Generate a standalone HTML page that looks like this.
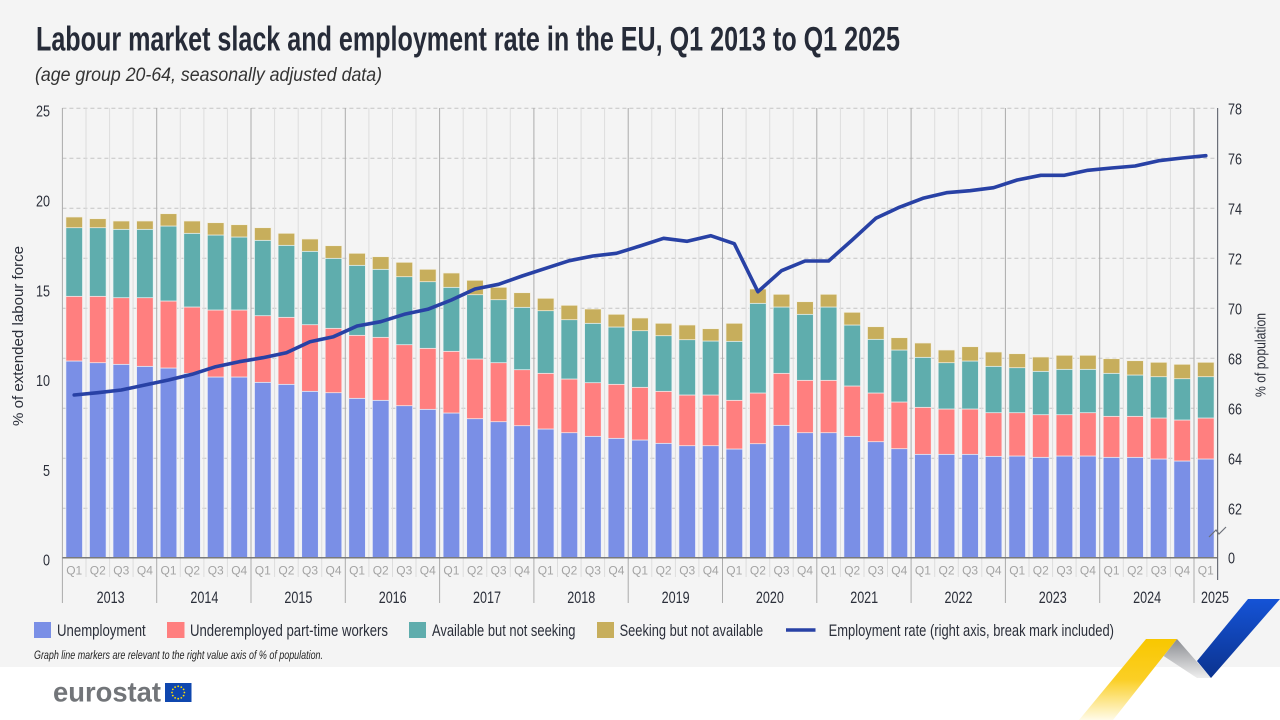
<!DOCTYPE html>
<html><head><meta charset="utf-8"><style>
html,body{margin:0;padding:0;background:#fff;}
svg{display:block;}
.f{font-family:"Liberation Sans Narrow","Liberation Sans",sans-serif;}
.b{fill:#7a8fe6;stroke:#eef0f8;stroke-width:0.7}
.r{fill:#ff7f7f;stroke:#f6eeee;stroke-width:0.7}
.t{fill:#5fadad;stroke:#eaf2f2;stroke-width:0.7}
.g{fill:#c7ae5c;stroke:#f4f0e4;stroke-width:0.7}
.q{font-size:12px;fill:#a3a3a3;}
.yr{font-size:17px;fill:#2b2f3a;}
.tk{font-size:16px;fill:#2b2f3a;}
.lg{font-size:16.5px;fill:#2b2f3a;}
</style></head><body>
<svg width="1280" height="720" viewBox="0 0 1280 720" xmlns="http://www.w3.org/2000/svg">
<defs>
<linearGradient id="gy" x1="0" y1="0" x2="0" y2="1"><stop offset="0" stop-color="#f8c700"/><stop offset="0.5" stop-color="#fbcf25"/><stop offset="1" stop-color="#fffbe8"/></linearGradient>
<linearGradient id="gg" x1="0" y1="0" x2="0" y2="1"><stop offset="0" stop-color="#8a8c91"/><stop offset="1" stop-color="#eeeeee"/></linearGradient>
<linearGradient id="gb" x1="0" y1="0" x2="0" y2="1"><stop offset="0" stop-color="#1553d6"/><stop offset="1" stop-color="#0b338f"/></linearGradient>
</defs>
<rect x="0" y="0" width="1280" height="667" fill="#f4f4f4"/>
<rect x="0" y="667" width="1280" height="53" fill="#ffffff"/>

<text class="f" x="36" y="50.5" font-size="34" font-weight="bold" fill="#262b38" textLength="864" lengthAdjust="spacingAndGlyphs">Labour market slack and employment rate in the EU, Q1 2013 to Q1 2025</text>
<text class="f" x="35" y="81" font-size="19" font-style="italic" fill="#333" textLength="347" lengthAdjust="spacingAndGlyphs">(age group 20-64, seasonally adjusted data)</text>

<!-- dashed gridlines -->
<g stroke="#c4c4c4" stroke-width="1" stroke-dasharray="4 3">
<line x1="62.4" x2="1217.6" y1="108.3" y2="108.3"/>
<line x1="62.4" x2="1217.6" y1="158.3" y2="158.3"/>
<line x1="62.4" x2="1217.6" y1="208.3" y2="208.3"/>
<line x1="62.4" x2="1217.6" y1="258.3" y2="258.3"/>
<line x1="62.4" x2="1217.6" y1="308.3" y2="308.3"/>
<line x1="62.4" x2="1217.6" y1="358.3" y2="358.3"/>
<line x1="62.4" x2="1217.6" y1="408.3" y2="408.3"/>
<line x1="62.4" x2="1217.6" y1="458.3" y2="458.3"/>
<line x1="62.4" x2="1217.6" y1="508.3" y2="508.3"/>
</g>
<!-- quarter gridlines -->
<g stroke="#dddddd" stroke-width="1">
<line x1="86" x2="86" y1="108" y2="577"/><line x1="109.6" x2="109.6" y1="108" y2="577"/><line x1="133.1" x2="133.1" y1="108" y2="577"/>
<line x1="180.3" x2="180.3" y1="108" y2="577"/><line x1="203.9" x2="203.9" y1="108" y2="577"/><line x1="227.4" x2="227.4" y1="108" y2="577"/>
<line x1="274.6" x2="274.6" y1="108" y2="577"/><line x1="298.2" x2="298.2" y1="108" y2="577"/><line x1="321.7" x2="321.7" y1="108" y2="577"/>
<line x1="368.9" x2="368.9" y1="108" y2="577"/><line x1="392.5" x2="392.5" y1="108" y2="577"/><line x1="416" x2="416" y1="108" y2="577"/>
<line x1="463.2" x2="463.2" y1="108" y2="577"/><line x1="486.8" x2="486.8" y1="108" y2="577"/><line x1="510.3" x2="510.3" y1="108" y2="577"/>
<line x1="557.5" x2="557.5" y1="108" y2="577"/><line x1="581.1" x2="581.1" y1="108" y2="577"/><line x1="604.6" x2="604.6" y1="108" y2="577"/>
<line x1="651.8" x2="651.8" y1="108" y2="577"/><line x1="675.4" x2="675.4" y1="108" y2="577"/><line x1="698.9" x2="698.9" y1="108" y2="577"/>
<line x1="746.1" x2="746.1" y1="108" y2="577"/><line x1="769.7" x2="769.7" y1="108" y2="577"/><line x1="793.2" x2="793.2" y1="108" y2="577"/>
<line x1="840.4" x2="840.4" y1="108" y2="577"/><line x1="864" x2="864" y1="108" y2="577"/><line x1="887.5" x2="887.5" y1="108" y2="577"/>
<line x1="934.7" x2="934.7" y1="108" y2="577"/><line x1="958.3" x2="958.3" y1="108" y2="577"/><line x1="981.8" x2="981.8" y1="108" y2="577"/>
<line x1="1029" x2="1029" y1="108" y2="577"/><line x1="1052.6" x2="1052.6" y1="108" y2="577"/><line x1="1076.1" x2="1076.1" y1="108" y2="577"/>
<line x1="1123.3" x2="1123.3" y1="108" y2="577"/><line x1="1146.9" x2="1146.9" y1="108" y2="577"/><line x1="1170.4" x2="1170.4" y1="108" y2="577"/>
</g>
<!-- year gridlines -->
<g stroke="#ababab" stroke-width="1">
<line x1="62.4" x2="62.4" y1="108" y2="603"/>
<line x1="156.7" x2="156.7" y1="108" y2="603"/><line x1="251" x2="251" y1="108" y2="603"/><line x1="345.3" x2="345.3" y1="108" y2="603"/>
<line x1="439.6" x2="439.6" y1="108" y2="603"/><line x1="533.9" x2="533.9" y1="108" y2="603"/><line x1="628.2" x2="628.2" y1="108" y2="603"/>
<line x1="722.5" x2="722.5" y1="108" y2="603"/><line x1="816.8" x2="816.8" y1="108" y2="603"/><line x1="911.1" x2="911.1" y1="108" y2="603"/>
<line x1="1005.4" x2="1005.4" y1="108" y2="603"/><line x1="1099.7" x2="1099.7" y1="108" y2="603"/><line x1="1194" x2="1194" y1="108" y2="603"/>
</g>

<!-- bars -->
<g>
<rect class="b" x="65.9" y="361" width="16.6" height="196.7"/><rect class="r" x="65.9" y="296.3" width="16.6" height="64.7"/><rect class="t" x="65.9" y="227.7" width="16.6" height="68.6"/><rect class="g" x="65.9" y="217" width="16.6" height="10.7"/>
<rect class="b" x="89.5" y="362.7" width="16.6" height="195"/><rect class="r" x="89.5" y="296.3" width="16.6" height="66.4"/><rect class="t" x="89.5" y="227.7" width="16.6" height="68.6"/><rect class="g" x="89.5" y="218.7" width="16.6" height="9"/>
<rect class="b" x="113" y="364.3" width="16.6" height="193.4"/><rect class="r" x="113" y="297.7" width="16.6" height="66.6"/><rect class="t" x="113" y="229.3" width="16.6" height="68.4"/><rect class="g" x="113" y="221" width="16.6" height="8.3"/>
<rect class="b" x="136.6" y="366.3" width="16.6" height="191.4"/><rect class="r" x="136.6" y="297.7" width="16.6" height="68.6"/><rect class="t" x="136.6" y="229.3" width="16.6" height="68.4"/><rect class="g" x="136.6" y="221" width="16.6" height="8.3"/>
<rect class="b" x="160.2" y="368" width="16.6" height="189.7"/><rect class="r" x="160.2" y="301" width="16.6" height="67"/><rect class="t" x="160.2" y="226" width="16.6" height="75"/><rect class="g" x="160.2" y="213.7" width="16.6" height="12.3"/>
<rect class="b" x="183.8" y="373.3" width="16.6" height="184.4"/><rect class="r" x="183.8" y="307" width="16.6" height="66.3"/><rect class="t" x="183.8" y="233.3" width="16.6" height="73.7"/><rect class="g" x="183.8" y="221" width="16.6" height="12.3"/>
<rect class="b" x="207.4" y="377" width="16.6" height="180.7"/><rect class="r" x="207.4" y="310" width="16.6" height="67"/><rect class="t" x="207.4" y="235" width="16.6" height="75"/><rect class="g" x="207.4" y="222.7" width="16.6" height="12.3"/>
<rect class="b" x="230.9" y="377" width="16.6" height="180.7"/><rect class="r" x="230.9" y="310" width="16.6" height="67"/><rect class="t" x="230.9" y="237" width="16.6" height="73"/><rect class="g" x="230.9" y="224.7" width="16.6" height="12.3"/>
<rect class="b" x="254.5" y="382.3" width="16.6" height="175.4"/><rect class="r" x="254.5" y="315.7" width="16.6" height="66.6"/><rect class="t" x="254.5" y="240.3" width="16.6" height="75.4"/><rect class="g" x="254.5" y="227.7" width="16.6" height="12.6"/>
<rect class="b" x="278.1" y="384.3" width="16.6" height="173.4"/><rect class="r" x="278.1" y="317.3" width="16.6" height="67"/><rect class="t" x="278.1" y="245.3" width="16.6" height="72"/><rect class="g" x="278.1" y="233.3" width="16.6" height="12"/>
<rect class="b" x="301.7" y="391.3" width="16.6" height="166.4"/><rect class="r" x="301.7" y="324.7" width="16.6" height="66.6"/><rect class="t" x="301.7" y="251.3" width="16.6" height="73.4"/><rect class="g" x="301.7" y="239" width="16.6" height="12.3"/>
<rect class="b" x="325.2" y="392.7" width="16.6" height="165"/><rect class="r" x="325.2" y="328.3" width="16.6" height="64.4"/><rect class="t" x="325.2" y="258.3" width="16.6" height="70"/><rect class="g" x="325.2" y="245.7" width="16.6" height="12.6"/>
<rect class="b" x="348.8" y="398.3" width="16.6" height="159.4"/><rect class="r" x="348.8" y="335.3" width="16.6" height="63"/><rect class="t" x="348.8" y="265.3" width="16.6" height="70"/><rect class="g" x="348.8" y="253.3" width="16.6" height="12"/>
<rect class="b" x="372.4" y="400.3" width="16.6" height="157.4"/><rect class="r" x="372.4" y="337.3" width="16.6" height="63"/><rect class="t" x="372.4" y="269.3" width="16.6" height="68"/><rect class="g" x="372.4" y="256.7" width="16.6" height="12.6"/>
<rect class="b" x="396" y="405.7" width="16.6" height="152"/><rect class="r" x="396" y="344.7" width="16.6" height="61"/><rect class="t" x="396" y="276.7" width="16.6" height="68"/><rect class="g" x="396" y="262.3" width="16.6" height="14.4"/>
<rect class="b" x="419.5" y="409.3" width="16.6" height="148.4"/><rect class="r" x="419.5" y="348.3" width="16.6" height="61"/><rect class="t" x="419.5" y="281.7" width="16.6" height="66.6"/><rect class="g" x="419.5" y="269.3" width="16.6" height="12.4"/>
<rect class="b" x="443.1" y="413" width="16.6" height="144.7"/><rect class="r" x="443.1" y="351.3" width="16.6" height="61.7"/><rect class="t" x="443.1" y="287.3" width="16.6" height="64"/><rect class="g" x="443.1" y="273" width="16.6" height="14.3"/>
<rect class="b" x="466.7" y="418.7" width="16.6" height="139"/><rect class="r" x="466.7" y="359" width="16.6" height="59.7"/><rect class="t" x="466.7" y="294.7" width="16.6" height="64.3"/><rect class="g" x="466.7" y="280.3" width="16.6" height="14.4"/>
<rect class="b" x="490.3" y="421.7" width="16.6" height="136"/><rect class="r" x="490.3" y="362.7" width="16.6" height="59"/><rect class="t" x="490.3" y="299.7" width="16.6" height="63"/><rect class="g" x="490.3" y="287.3" width="16.6" height="12.4"/>
<rect class="b" x="513.8" y="425.7" width="16.6" height="132"/><rect class="r" x="513.8" y="369.7" width="16.6" height="56"/><rect class="t" x="513.8" y="307.3" width="16.6" height="62.4"/><rect class="g" x="513.8" y="292.7" width="16.6" height="14.6"/>
<rect class="b" x="537.4" y="429" width="16.6" height="128.7"/><rect class="r" x="537.4" y="373.3" width="16.6" height="55.7"/><rect class="t" x="537.4" y="310.7" width="16.6" height="62.6"/><rect class="g" x="537.4" y="298.3" width="16.6" height="12.4"/>
<rect class="b" x="561" y="432.7" width="16.6" height="125"/><rect class="r" x="561" y="379" width="16.6" height="53.7"/><rect class="t" x="561" y="319.7" width="16.6" height="59.3"/><rect class="g" x="561" y="305.3" width="16.6" height="14.4"/>
<rect class="b" x="584.6" y="436.3" width="16.6" height="121.4"/><rect class="r" x="584.6" y="382.7" width="16.6" height="53.6"/><rect class="t" x="584.6" y="323.3" width="16.6" height="59.4"/><rect class="g" x="584.6" y="309" width="16.6" height="14.3"/>
<rect class="b" x="608.1" y="438.3" width="16.6" height="119.4"/><rect class="r" x="608.1" y="384.3" width="16.6" height="54"/><rect class="t" x="608.1" y="327" width="16.6" height="57.3"/><rect class="g" x="608.1" y="314.3" width="16.6" height="12.7"/>
<rect class="b" x="631.7" y="440" width="16.6" height="117.7"/><rect class="r" x="631.7" y="387.3" width="16.6" height="52.7"/><rect class="t" x="631.7" y="330.7" width="16.6" height="56.6"/><rect class="g" x="631.7" y="318" width="16.6" height="12.7"/>
<rect class="b" x="655.3" y="443.3" width="16.6" height="114.4"/><rect class="r" x="655.3" y="391.3" width="16.6" height="52"/><rect class="t" x="655.3" y="335.7" width="16.6" height="55.6"/><rect class="g" x="655.3" y="323.3" width="16.6" height="12.4"/>
<rect class="b" x="678.9" y="445.7" width="16.6" height="112"/><rect class="r" x="678.9" y="395" width="16.6" height="50.7"/><rect class="t" x="678.9" y="339.7" width="16.6" height="55.3"/><rect class="g" x="678.9" y="325" width="16.6" height="14.7"/>
<rect class="b" x="702.4" y="445.7" width="16.6" height="112"/><rect class="r" x="702.4" y="395" width="16.6" height="50.7"/><rect class="t" x="702.4" y="341" width="16.6" height="54"/><rect class="g" x="702.4" y="328.7" width="16.6" height="12.3"/>
<rect class="b" x="726" y="449" width="16.6" height="108.7"/><rect class="r" x="726" y="400.3" width="16.6" height="48.7"/><rect class="t" x="726" y="341.3" width="16.6" height="59"/><rect class="g" x="726" y="323.3" width="16.6" height="18"/>
<rect class="b" x="749.6" y="443.7" width="16.6" height="114"/><rect class="r" x="749.6" y="393" width="16.6" height="50.7"/><rect class="t" x="749.6" y="303.3" width="16.6" height="89.7"/><rect class="g" x="749.6" y="289" width="16.6" height="14.3"/>
<rect class="b" x="773.2" y="425.3" width="16.6" height="132.4"/><rect class="r" x="773.2" y="373.3" width="16.6" height="52"/><rect class="t" x="773.2" y="307" width="16.6" height="66.3"/><rect class="g" x="773.2" y="294.3" width="16.6" height="12.7"/>
<rect class="b" x="796.7" y="432.7" width="16.6" height="125"/><rect class="r" x="796.7" y="380.3" width="16.6" height="52.4"/><rect class="t" x="796.7" y="314.3" width="16.6" height="66"/><rect class="g" x="796.7" y="301.7" width="16.6" height="12.6"/>
<rect class="b" x="820.3" y="432.7" width="16.6" height="125"/><rect class="r" x="820.3" y="380.3" width="16.6" height="52.4"/><rect class="t" x="820.3" y="307" width="16.6" height="73.3"/><rect class="g" x="820.3" y="294.3" width="16.6" height="12.7"/>
<rect class="b" x="843.9" y="436.3" width="16.6" height="121.4"/><rect class="r" x="843.9" y="386" width="16.6" height="50.3"/><rect class="t" x="843.9" y="325" width="16.6" height="61"/><rect class="g" x="843.9" y="312.3" width="16.6" height="12.7"/>
<rect class="b" x="867.5" y="441.7" width="16.6" height="116"/><rect class="r" x="867.5" y="393" width="16.6" height="48.7"/><rect class="t" x="867.5" y="339.3" width="16.6" height="53.7"/><rect class="g" x="867.5" y="326.7" width="16.6" height="12.6"/>
<rect class="b" x="891" y="448.7" width="16.6" height="109"/><rect class="r" x="891" y="402" width="16.6" height="46.7"/><rect class="t" x="891" y="350" width="16.6" height="52"/><rect class="g" x="891" y="337.7" width="16.6" height="12.3"/>
<rect class="b" x="914.6" y="454.3" width="16.6" height="103.4"/><rect class="r" x="914.6" y="407.3" width="16.6" height="47"/><rect class="t" x="914.6" y="357.3" width="16.6" height="50"/><rect class="g" x="914.6" y="343" width="16.6" height="14.3"/>
<rect class="b" x="938.2" y="454.3" width="16.6" height="103.4"/><rect class="r" x="938.2" y="409" width="16.6" height="45.3"/><rect class="t" x="938.2" y="362.7" width="16.6" height="46.3"/><rect class="g" x="938.2" y="350" width="16.6" height="12.7"/>
<rect class="b" x="961.8" y="454.3" width="16.6" height="103.4"/><rect class="r" x="961.8" y="409" width="16.6" height="45.3"/><rect class="t" x="961.8" y="361" width="16.6" height="48"/><rect class="g" x="961.8" y="346.7" width="16.6" height="14.3"/>
<rect class="b" x="985.3" y="456.3" width="16.6" height="101.4"/><rect class="r" x="985.3" y="412.7" width="16.6" height="43.6"/><rect class="t" x="985.3" y="366.3" width="16.6" height="46.4"/><rect class="g" x="985.3" y="352" width="16.6" height="14.3"/>
<rect class="b" x="1008.9" y="456" width="16.6" height="101.7"/><rect class="r" x="1008.9" y="412.7" width="16.6" height="43.3"/><rect class="t" x="1008.9" y="367.7" width="16.6" height="45"/><rect class="g" x="1008.9" y="353.7" width="16.6" height="14"/>
<rect class="b" x="1032.5" y="457.3" width="16.6" height="100.4"/><rect class="r" x="1032.5" y="414.7" width="16.6" height="42.6"/><rect class="t" x="1032.5" y="371.3" width="16.6" height="43.4"/><rect class="g" x="1032.5" y="357" width="16.6" height="14.3"/>
<rect class="b" x="1056.1" y="456" width="16.6" height="101.7"/><rect class="r" x="1056.1" y="414.7" width="16.6" height="41.3"/><rect class="t" x="1056.1" y="369.3" width="16.6" height="45.4"/><rect class="g" x="1056.1" y="355.3" width="16.6" height="14"/>
<rect class="b" x="1079.6" y="456" width="16.6" height="101.7"/><rect class="r" x="1079.6" y="412.7" width="16.6" height="43.3"/><rect class="t" x="1079.6" y="369.3" width="16.6" height="43.4"/><rect class="g" x="1079.6" y="355.3" width="16.6" height="14"/>
<rect class="b" x="1103.2" y="457.3" width="16.6" height="100.4"/><rect class="r" x="1103.2" y="416.3" width="16.6" height="41"/><rect class="t" x="1103.2" y="373.3" width="16.6" height="43"/><rect class="g" x="1103.2" y="358.7" width="16.6" height="14.6"/>
<rect class="b" x="1126.8" y="457.3" width="16.6" height="100.4"/><rect class="r" x="1126.8" y="416.3" width="16.6" height="41"/><rect class="t" x="1126.8" y="375" width="16.6" height="41.3"/><rect class="g" x="1126.8" y="360.7" width="16.6" height="14.3"/>
<rect class="b" x="1150.4" y="459" width="16.6" height="98.7"/><rect class="r" x="1150.4" y="418" width="16.6" height="41"/><rect class="t" x="1150.4" y="376.7" width="16.6" height="41.3"/><rect class="g" x="1150.4" y="362.3" width="16.6" height="14.4"/>
<rect class="b" x="1173.9" y="461" width="16.6" height="96.7"/><rect class="r" x="1173.9" y="420" width="16.6" height="41"/><rect class="t" x="1173.9" y="378.7" width="16.6" height="41.3"/><rect class="g" x="1173.9" y="364.3" width="16.6" height="14.4"/>
<rect class="b" x="1197.5" y="459" width="16.6" height="98.7"/><rect class="r" x="1197.5" y="418" width="16.6" height="41"/><rect class="t" x="1197.5" y="376.7" width="16.6" height="41.3"/><rect class="g" x="1197.5" y="362.3" width="16.6" height="14.4"/>
</g>

<!-- axes -->
<line x1="62.4" x2="1217.6" y1="557.7" y2="557.7" stroke="#7a7a7a" stroke-width="1.5"/>
<line x1="1217.6" x2="1217.6" y1="108" y2="580" stroke="#6b6f78" stroke-width="1.2"/>
<polyline points="1209,537 1216,530 1219,534 1226,527" fill="none" stroke="#6b6f78" stroke-width="1.2"/>

<!-- employment line -->
<polyline fill="none" stroke="#2841a5" stroke-width="3.6" stroke-linejoin="round" stroke-linecap="round" points="74.2,395 97.8,392.7 121.3,390 144.9,385 168.5,380 192.1,374.3 215.7,366.7 239.2,361.7 262.8,357.7 286.4,352.7 310,341.7 333.5,336.7 357.1,326 380.7,321.7 404.3,314.3 427.8,309.3 451.4,300 475,289 498.6,284.3 522.1,276 545.7,268.3 569.3,260.7 592.9,256 616.4,253.3 640,246 663.6,238.3 687.2,241.3 710.7,235.7 734.3,243.7 757.9,291.7 781.5,270.7 805,261 828.6,261 852.2,240 875.8,218.3 899.3,207.3 922.9,198.3 946.5,192.7 970.1,190.7 993.6,187.7 1017.2,180 1040.8,175.3 1064.4,175.3 1087.9,170.3 1111.5,168 1135.1,166 1158.7,160.7 1182.2,158 1205.8,155.7"/>

<!-- left tick labels -->
<g class="f tk" text-anchor="end">
<text x="50" y="116.7" textLength="14" lengthAdjust="spacingAndGlyphs">25</text>
<text x="50" y="206.5" textLength="14" lengthAdjust="spacingAndGlyphs">20</text>
<text x="50" y="296.3" textLength="14" lengthAdjust="spacingAndGlyphs">15</text>
<text x="50" y="386.1" textLength="14" lengthAdjust="spacingAndGlyphs">10</text>
<text x="50" y="475.9" textLength="7" lengthAdjust="spacingAndGlyphs">5</text>
<text x="50" y="565.7" textLength="7" lengthAdjust="spacingAndGlyphs">0</text>
</g>
<!-- right tick labels -->
<g class="f tk">
<text x="1228" y="114.3" textLength="14" lengthAdjust="spacingAndGlyphs">78</text>
<text x="1228" y="164.3" textLength="14" lengthAdjust="spacingAndGlyphs">76</text>
<text x="1228" y="214.3" textLength="14" lengthAdjust="spacingAndGlyphs">74</text>
<text x="1228" y="264.3" textLength="14" lengthAdjust="spacingAndGlyphs">72</text>
<text x="1228" y="314.3" textLength="14" lengthAdjust="spacingAndGlyphs">70</text>
<text x="1228" y="364.3" textLength="14" lengthAdjust="spacingAndGlyphs">68</text>
<text x="1228" y="414.3" textLength="14" lengthAdjust="spacingAndGlyphs">66</text>
<text x="1228" y="464.3" textLength="14" lengthAdjust="spacingAndGlyphs">64</text>
<text x="1228" y="514.3" textLength="14" lengthAdjust="spacingAndGlyphs">62</text>
<text x="1228" y="563.7" textLength="7" lengthAdjust="spacingAndGlyphs">0</text>
</g>
<!-- axis titles -->
<text class="f" transform="translate(23,336) rotate(-90)" text-anchor="middle" font-size="14.5" fill="#2b2f3a" textLength="180" lengthAdjust="spacingAndGlyphs">% of extended labour force</text>
<text class="f" transform="translate(1265.5,355) rotate(-90)" text-anchor="middle" font-size="14.5" fill="#2b2f3a" textLength="84" lengthAdjust="spacingAndGlyphs">% of population</text>

<!-- quarter labels -->
<g class="f q" text-anchor="middle">
<text x="74.2" y="574.5">Q1</text><text x="97.8" y="574.5">Q2</text><text x="121.3" y="574.5">Q3</text><text x="144.9" y="574.5">Q4</text>
<text x="168.5" y="574.5">Q1</text><text x="192.1" y="574.5">Q2</text><text x="215.7" y="574.5">Q3</text><text x="239.2" y="574.5">Q4</text>
<text x="262.8" y="574.5">Q1</text><text x="286.4" y="574.5">Q2</text><text x="310" y="574.5">Q3</text><text x="333.5" y="574.5">Q4</text>
<text x="357.1" y="574.5">Q1</text><text x="380.7" y="574.5">Q2</text><text x="404.3" y="574.5">Q3</text><text x="427.8" y="574.5">Q4</text>
<text x="451.4" y="574.5">Q1</text><text x="475" y="574.5">Q2</text><text x="498.6" y="574.5">Q3</text><text x="522.1" y="574.5">Q4</text>
<text x="545.7" y="574.5">Q1</text><text x="569.3" y="574.5">Q2</text><text x="592.9" y="574.5">Q3</text><text x="616.4" y="574.5">Q4</text>
<text x="640" y="574.5">Q1</text><text x="663.6" y="574.5">Q2</text><text x="687.2" y="574.5">Q3</text><text x="710.7" y="574.5">Q4</text>
<text x="734.3" y="574.5">Q1</text><text x="757.9" y="574.5">Q2</text><text x="781.5" y="574.5">Q3</text><text x="805" y="574.5">Q4</text>
<text x="828.6" y="574.5">Q1</text><text x="852.2" y="574.5">Q2</text><text x="875.8" y="574.5">Q3</text><text x="899.3" y="574.5">Q4</text>
<text x="922.9" y="574.5">Q1</text><text x="946.5" y="574.5">Q2</text><text x="970.1" y="574.5">Q3</text><text x="993.6" y="574.5">Q4</text>
<text x="1017.2" y="574.5">Q1</text><text x="1040.8" y="574.5">Q2</text><text x="1064.4" y="574.5">Q3</text><text x="1087.9" y="574.5">Q4</text>
<text x="1111.5" y="574.5">Q1</text><text x="1135.1" y="574.5">Q2</text><text x="1158.7" y="574.5">Q3</text><text x="1182.2" y="574.5">Q4</text>
<text x="1205.8" y="574.5">Q1</text>
</g>
<!-- year labels -->
<g class="f yr" text-anchor="middle">
<text x="110.6" y="603" textLength="28" lengthAdjust="spacingAndGlyphs">2013</text>
<text x="204.4" y="603" textLength="28" lengthAdjust="spacingAndGlyphs">2014</text>
<text x="298.4" y="603" textLength="28" lengthAdjust="spacingAndGlyphs">2015</text>
<text x="392.7" y="603" textLength="28" lengthAdjust="spacingAndGlyphs">2016</text>
<text x="487" y="603" textLength="28" lengthAdjust="spacingAndGlyphs">2017</text>
<text x="581.3" y="603" textLength="28" lengthAdjust="spacingAndGlyphs">2018</text>
<text x="675.6" y="603" textLength="28" lengthAdjust="spacingAndGlyphs">2019</text>
<text x="769.9" y="603" textLength="28" lengthAdjust="spacingAndGlyphs">2020</text>
<text x="864.2" y="603" textLength="28" lengthAdjust="spacingAndGlyphs">2021</text>
<text x="958.5" y="603" textLength="28" lengthAdjust="spacingAndGlyphs">2022</text>
<text x="1052.8" y="603" textLength="28" lengthAdjust="spacingAndGlyphs">2023</text>
<text x="1147.1" y="603" textLength="28" lengthAdjust="spacingAndGlyphs">2024</text>
<text x="1215" y="603" textLength="28" lengthAdjust="spacingAndGlyphs">2025</text>
</g>

<!-- legend -->
<rect x="34" y="622" width="17" height="16" fill="#7a8fe6"/>
<text class="f lg" x="57" y="636" textLength="88.7" lengthAdjust="spacingAndGlyphs">Unemployment</text>
<rect x="167" y="622" width="17.5" height="16" fill="#ff7f7f"/>
<text class="f lg" x="190" y="636" textLength="198" lengthAdjust="spacingAndGlyphs">Underemployed part-time workers</text>
<rect x="409" y="622" width="17" height="16" fill="#5fadad"/>
<text class="f lg" x="432" y="636" textLength="143.5" lengthAdjust="spacingAndGlyphs">Available but not seeking</text>
<rect x="597" y="622" width="17" height="16" fill="#c7ae5c"/>
<text class="f lg" x="619.6" y="636" textLength="143.5" lengthAdjust="spacingAndGlyphs">Seeking but not available</text>
<line x1="786" x2="815.5" y1="630" y2="630" stroke="#2841a5" stroke-width="3.6"/>
<text class="f lg" x="828.6" y="636" textLength="285.4" lengthAdjust="spacingAndGlyphs">Employment rate (right axis, break mark included)</text>

<text class="f" x="34" y="659" font-size="11.5" font-style="italic" fill="#222" textLength="289" lengthAdjust="spacingAndGlyphs">Graph line markers are relevant to the right value axis of % of population.</text>

<!-- eurostat logo -->
<text x="53" y="701.7" font-family="'Liberation Sans',sans-serif" font-size="28" font-weight="bold" fill="#727579" textLength="108" lengthAdjust="spacingAndGlyphs">eurostat</text>
<rect x="165" y="683" width="26.5" height="19" fill="#0f47af"/>
<g fill="#ffdd00">
<circle cx="178.2" cy="686.3" r="0.9"/><circle cx="181.3" cy="687.1" r="0.9"/><circle cx="183.6" cy="689.4" r="0.9"/><circle cx="184.4" cy="692.5" r="0.9"/>
<circle cx="183.6" cy="695.6" r="0.9"/><circle cx="181.3" cy="697.9" r="0.9"/><circle cx="178.2" cy="698.7" r="0.9"/><circle cx="175.1" cy="697.9" r="0.9"/>
<circle cx="172.8" cy="695.6" r="0.9"/><circle cx="172" cy="692.5" r="0.9"/><circle cx="172.8" cy="689.4" r="0.9"/><circle cx="175.1" cy="687.1" r="0.9"/>
</g>

<!-- ribbons -->
<polygon points="1177,639 1211,678 1197,678 1163.6,656" fill="url(#gg)"/>
<polygon points="1146,639 1177,639 1113,720 1079,720" fill="url(#gy)"/>
<polygon points="1248,599 1280,599 1211,678 1197,661" fill="url(#gb)"/>
</svg>
</body></html>
